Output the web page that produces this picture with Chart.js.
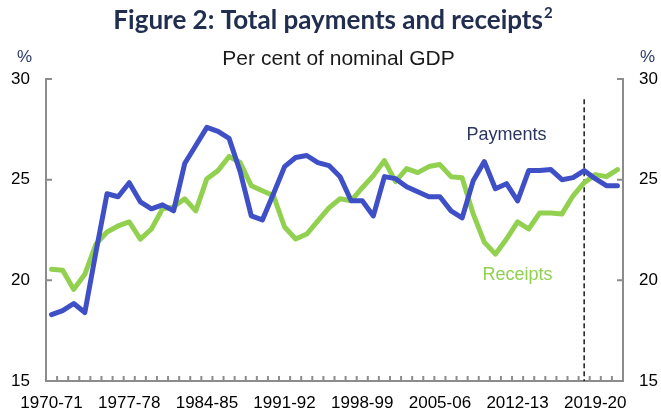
<!DOCTYPE html>
<html><head><meta charset="utf-8">
<script src="https://cdn.jsdelivr.net/npm/chart.js@4"></script>
<style>html,body{margin:0;padding:0;background:#fff}#wrap{width:661px;height:420px;position:relative}</style>
</head><body><div id="wrap"><canvas id="c" width="661" height="420"></canvas></div>
<script>
const categories = ['1970-71','1971-72','1972-73','1973-74','1974-75','1975-76','1976-77','1977-78','1978-79','1979-80',
  '1980-81','1981-82','1982-83','1983-84','1984-85','1985-86','1986-87','1987-88','1988-89','1989-90',
  '1990-91','1991-92','1992-93','1993-94','1994-95','1995-96','1996-97','1997-98','1998-99','1999-00',
  '2000-01','2001-02','2002-03','2003-04','2004-05','2005-06','2006-07','2007-08','2008-09','2009-10',
  '2010-11','2011-12','2012-13','2013-14','2014-15','2015-16','2016-17','2017-18','2018-19','2019-20',
  '2020-21','2021-22'];
const payments = [18.3,18.5,18.85,18.4,21.4,24.3,24.15,24.85,23.9,23.55,
  23.75,23.45,25.8,26.7,27.6,27.4,27.05,25.4,23.2,23.0,
  24.3,25.65,26.1,26.2,25.85,25.7,25.15,23.95,23.95,23.2,
  25.15,25.05,24.65,24.4,24.15,24.15,23.45,23.1,24.95,25.9,
  24.55,24.8,23.95,25.45,25.45,25.5,25.0,25.1,25.45,25.05,
  24.7,24.7];
const receipts = [20.55,20.5,19.55,20.3,21.8,22.4,22.7,22.9,22.05,22.55,
  23.55,23.65,24.05,23.45,25.05,25.45,26.15,25.85,24.7,24.45,
  24.2,22.65,22.05,22.3,22.95,23.6,24.05,23.95,24.6,25.2,
  25.95,24.9,25.55,25.35,25.65,25.75,25.15,25.1,23.3,21.9,
  21.3,22.05,22.9,22.55,23.35,23.35,23.3,24.2,24.85,25.25,
  25.15,25.5];
const xTickLabels = ['1970-71','1977-78','1984-85','1991-92','1998-99','2005-06','2012-13','2019-20'];
const yTicks = [15,20,25,30];
const projectionStart = '2018-19';

const AXIS = '#8c8c8c';
const BLUE = '#3f4fc6';
const GREEN = '#92d050';
const NAVY = '#212e4f';
const FONT = '"Liberation Sans", Arial, sans-serif';

const decor = {
  id: 'decor',
  beforeDatasetsDraw(chart) {
    const ctx = chart.ctx, x = chart.scales.x, y = chart.scales.y;
    const px = x.getPixelForValue(categories.indexOf(projectionStart));
    ctx.save();
    ctx.strokeStyle = '#1a1a1a'; ctx.lineWidth = 1.5; ctx.setLineDash([5,3]);
    ctx.beginPath(); ctx.moveTo(px, y.getPixelForValue(29)); ctx.lineTo(px, y.getPixelForValue(15)); ctx.stroke();
    ctx.restore();
  },
  afterDraw(chart) {
    const ctx = chart.ctx, x = chart.scales.x, y = chart.scales.y, a = chart.chartArea;
    ctx.save();
    ctx.strokeStyle = AXIS; ctx.lineWidth = 2;
    const step = x.getPixelForValue(1) - x.getPixelForValue(0);
    ctx.beginPath();
    for (let i = 0; i <= categories.length; i++) {
      const p = x.getPixelForValue(i) - step / 2;
      ctx.moveTo(p, a.bottom); ctx.lineTo(p, a.bottom - 5);
    }
    yTicks.forEach(v => {
      const p = y.getPixelForValue(v);
      ctx.moveTo(a.left, p); ctx.lineTo(a.left + 6, p);
      ctx.moveTo(a.right, p); ctx.lineTo(a.right - 6, p);
    });
    ctx.stroke();

    const t = 'Figure 2: Total payments and receipts';
    ctx.fillStyle = NAVY;
    ctx.font = 'bold 26px Lato, sans-serif';
    const w1 = ctx.measureText(t).width;
    ctx.font = 'bold 15px Lato, sans-serif';
    const w2 = ctx.measureText('2').width;
    const sx = 333 - (w1 + w2 + 1) / 2;
    ctx.textAlign = 'left'; ctx.textBaseline = 'alphabetic';
    ctx.font = 'bold 26px Lato, sans-serif';
    ctx.fillText(t, sx, 29);
    ctx.font = 'bold 15px Lato, sans-serif';
    ctx.fillText('2', sx + w1 + 1, 18);

    ctx.textAlign = 'center';
    ctx.fillStyle = '#1a1a1a';
    ctx.font = '21px ' + FONT;
    ctx.fillText('Per cent of nominal GDP', 338.5, 65);

    ctx.fillStyle = '#2b3a67';
    ctx.font = '17px ' + FONT;
    ctx.fillText('%', 24.5, 62);
    ctx.fillText('%', 647.5, 62);

    ctx.font = '18px ' + FONT;
    ctx.fillStyle = '#2b3560';
    ctx.fillText('Payments', x.getPixelForValue(41), y.getPixelForValue(26.98));
    ctx.fillStyle = GREEN;
    ctx.fillText('Receipts', x.getPixelForValue(42), y.getPixelForValue(20.0));
    ctx.restore();
  }
};

const yCommon = {
  min: 15, max: 30,
  grid: { display: false, drawTicks: false },
  border: { display: true, color: AXIS, width: 2 },
  ticks: { stepSize: 5, padding: 16, color: '#000', font: { family: FONT, size: 17 } }
};

new Chart(document.getElementById('c'), {
  type: 'line',
  data: {
    labels: categories,
    datasets: [
      { label: 'Payments', data: payments, borderColor: BLUE, borderWidth: 5, pointRadius: 0, tension: 0,
        borderJoinStyle: 'round', borderCapStyle: 'round', yAxisID: 'y' },
      { label: 'Receipts', data: receipts, borderColor: GREEN, borderWidth: 5, pointRadius: 0, tension: 0,
        borderJoinStyle: 'round', borderCapStyle: 'round', yAxisID: 'y' }
    ]
  },
  options: {
    responsive: false, animation: false, devicePixelRatio: 1,
    layout: { padding: { top: 79, left: 0, right: 0, bottom: 0 } },
    plugins: { legend: { display: false }, tooltip: { enabled: false }, title: { display: false } },
    scales: {
      x: {
        offset: true,
        grid: { display: false, drawTicks: false, offset: true },
        border: { display: true, color: AXIS, width: 2 },
        ticks: { autoSkip: false, maxRotation: 0, minRotation: 0, padding: 12, color: '#000',
          font: { family: FONT, size: 17 },
          callback: (v, i) => xTickLabels.includes(categories[i]) ? categories[i] : '' },
        afterFit: s => { s.height = 39; }
      },
      y: Object.assign({}, yCommon, { position: 'left', afterFit: s => { s.width = 46; } }),
      y2: Object.assign({}, yCommon, { position: 'right', afterFit: s => { s.width = 38; } })
    }
  },
  plugins: [decor]
});
</script></body></html>
